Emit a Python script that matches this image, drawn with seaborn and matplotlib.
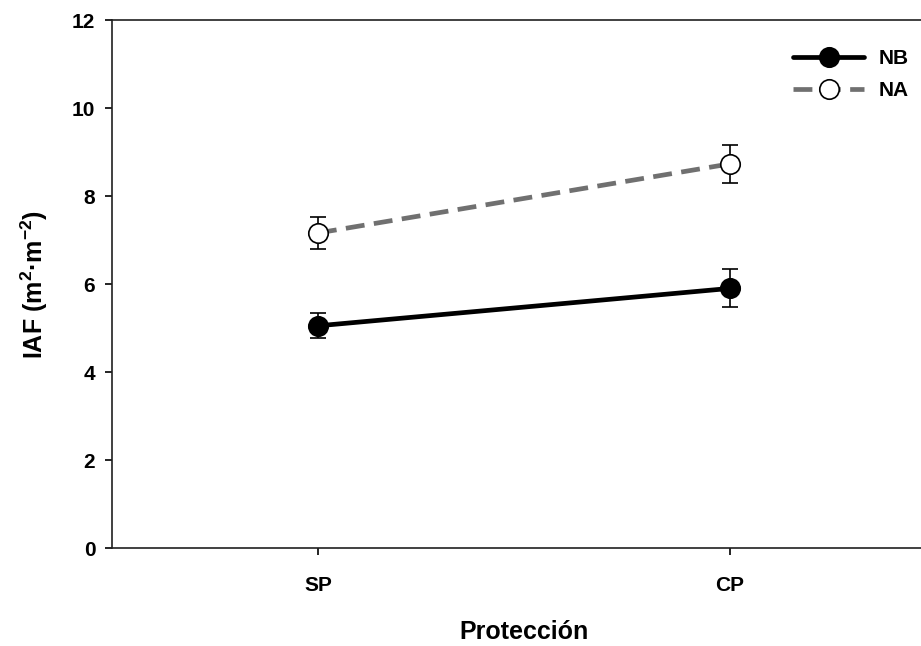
import pandas as pd
import numpy as np
import matplotlib as mpl
import matplotlib.pyplot as plt
import seaborn as sns

sns.set_style("ticks")
mpl.rcParams['font.family'] = ['Liberation Sans', 'DejaVu Sans']
mpl.rcParams['font.weight'] = 'bold'
mpl.rcParams['text.color'] = 'black'
mpl.rcParams['axes.labelcolor'] = 'black'
mpl.rcParams['xtick.color'] = 'black'
mpl.rcParams['ytick.color'] = 'black'
mpl.rcParams['mathtext.fontset'] = 'custom'
mpl.rcParams['mathtext.rm'] = 'Liberation Sans:bold'
mpl.rcParams['mathtext.default'] = 'rm'

# data
categories = ["SP", "CP"]
nb_mean = [5.05, 5.90]
nb_err = [0.28, 0.43]
na_mean = [7.16, 8.73]
na_err = [0.36, 0.43]

df = pd.DataFrame({
    "Protección": categories * 2,
    "IAF": nb_mean + na_mean,
    "err": nb_err + na_err,
    "grupo": ["NB"] * 2 + ["NA"] * 2,
})

fig = plt.figure(figsize=(9.21, 6.46), dpi=100)
ax = fig.add_axes([0.1216, 0.1517, 1.016 - 0.1216, 0.969 - 0.1517])

styles = {
    "NB": dict(color="black", mfc="black", ls="-"),
    "NA": dict(color="#707070", mfc="white", ls="--"),
}

for g in ["NB", "NA"]:
    sub = df[df.grupo == g]
    pos = np.arange(len(sub))
    st = styles[g]
    ax.errorbar(pos, sub.IAF, yerr=sub.err, fmt="none", ecolor="black",
                elinewidth=1.2, capsize=6, capthick=1.2, zorder=2)
    ax.plot(pos, sub.IAF, color=st["color"], ls=st["ls"], lw=3.4,
            dashes=(4, 2) if st["ls"] == "--" else (None, None),
            marker="o", ms=14, mfc=st["mfc"], mec="black", mew=1.2,
            label=g, zorder=3)

ax.set_xticks(range(len(categories)))
ax.set_xticklabels(categories)
ax.set_xlim(-0.5, 1.5)
ax.set_ylim(0, 12)
ax.set_yticks(range(0, 13, 2))
ax.tick_params(axis="both", labelsize=15, direction="out", length=5, width=1.2,
               colors="black")
ax.tick_params(axis="x", pad=15)
ax.tick_params(axis="y", pad=7)
for lab in ax.get_xticklabels() + ax.get_yticklabels():
    lab.set_fontweight("bold")

ax.set_xlabel("Protección", fontsize=18, fontweight="bold", labelpad=18)
ax.set_ylabel(r"IAF (m$^{2}$·m$^{-2}$)", fontsize=18, fontweight="bold", labelpad=16)

for s in ax.spines.values():
    s.set_linewidth(1.2)
    s.set_color("#202020")

leg = ax.legend(loc="upper right", bbox_to_anchor=(0.99, 0.98), frameon=False,
                handlelength=3.4, handletextpad=0.7, labelspacing=0.6,
                prop={"weight": "bold", "size": 15})

fig.savefig("out.png", dpi=100)
